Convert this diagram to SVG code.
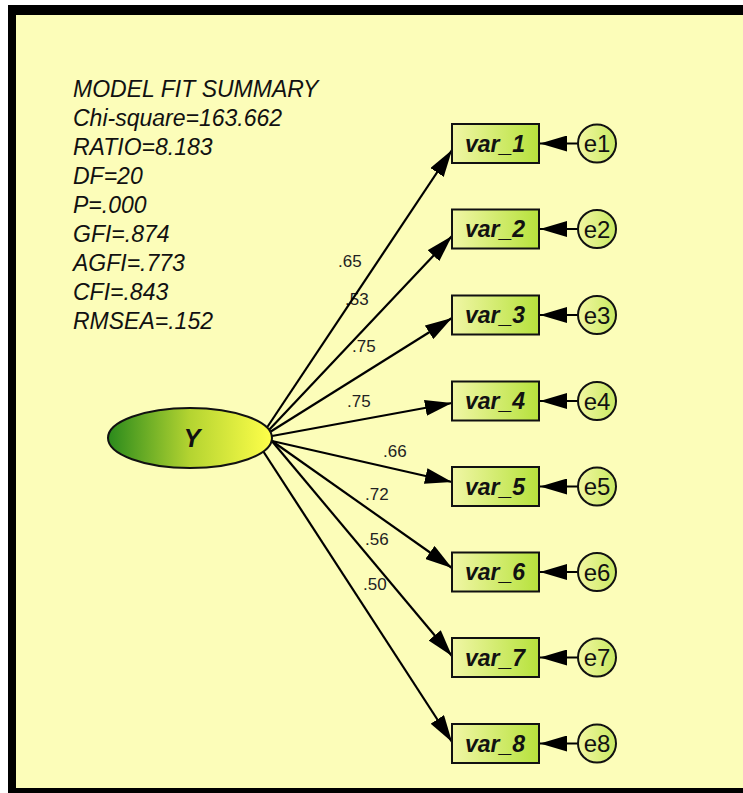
<svg xmlns="http://www.w3.org/2000/svg" width="743" height="793" viewBox="0 0 743 793">
<defs>
<linearGradient id="gBox" x1="0" y1="0" x2="1" y2="0">
<stop offset="0" stop-color="#F1F6A6"/><stop offset="1" stop-color="#B6E23C"/>
</linearGradient>
<linearGradient id="gErr" x1="0" y1="0" x2="1" y2="0">
<stop offset="0" stop-color="#F2F7A2"/><stop offset="1" stop-color="#C9E962"/>
</linearGradient>
<linearGradient id="gY" x1="0" y1="0" x2="1" y2="0">
<stop offset="0" stop-color="#2A8A1C"/><stop offset="0.5" stop-color="#B4D431"/><stop offset="1" stop-color="#FFFF4A"/>
</linearGradient>
<marker id="arr" markerUnits="userSpaceOnUse" markerWidth="27" markerHeight="16" refX="27" refY="8" orient="auto">
<path d="M0,0 L27,8 L0,16 z" fill="#000"/>
</marker>
</defs>
<style>
.fit{font-family:"Liberation Sans",Arial,sans-serif;font-style:italic;font-size:23px;fill:#111}
.lbl{font-family:"Liberation Sans",Arial,sans-serif;font-size:17px;fill:#222}
.box{fill:url(#gBox);stroke:#111;stroke-width:2}
.btx{font-family:"Liberation Sans",Arial,sans-serif;font-style:italic;font-weight:bold;font-size:23px;fill:#111;text-anchor:middle}
.err{fill:url(#gErr);stroke:#111;stroke-width:2}
.etx{font-family:"Liberation Sans",Arial,sans-serif;font-size:24px;fill:#111;text-anchor:middle}
.path{stroke:#000;stroke-width:2.2;fill:none;marker-end:url(#arr)}
</style>
<rect x="0" y="0" width="743" height="793" fill="#fff"/>
<rect x="8" y="5" width="740" height="795" fill="#000"/>
<rect x="16" y="15" width="730" height="773" fill="#FCFDB9"/>

<g id="fit-summary">
<text class="fit" x="73" y="97">MODEL FIT SUMMARY</text>
<text class="fit" x="73" y="126">Chi-square=163.662</text>
<text class="fit" x="73" y="155">RATIO=8.183</text>
<text class="fit" x="73" y="184">DF=20</text>
<text class="fit" x="73" y="213">P=.000</text>
<text class="fit" x="73" y="242">GFI=.874</text>
<text class="fit" x="73" y="271">AGFI=.773</text>
<text class="fit" x="73" y="300">CFI=.843</text>
<text class="fit" x="73" y="329">RMSEA=.152</text>
</g>

<g id="labels">
<text class="lbl" x="338" y="267">.65</text>
<text class="lbl" x="345" y="305">.53</text>
<text class="lbl" x="352" y="352">.75</text>
<text class="lbl" x="347" y="407">.75</text>
<text class="lbl" x="383" y="457">.66</text>
<text class="lbl" x="365" y="500">.72</text>
<text class="lbl" x="365" y="545">.56</text>
<text class="lbl" x="363" y="590">.50</text>
</g>

<g id="connectors">
<line class="path" x1="266" y1="429" x2="452" y2="150"/>
<line class="path" x1="268" y1="431" x2="452" y2="236"/>
<line class="path" x1="270" y1="432" x2="452" y2="318"/>
<line class="path" x1="272" y1="436" x2="452" y2="403"/>
<line class="path" x1="272" y1="441" x2="452" y2="482"/>
<line class="path" x1="272" y1="441" x2="452" y2="568"/>
<line class="path" x1="271" y1="440" x2="452" y2="656"/>
<line class="path" x1="263" y1="451" x2="452" y2="742"/>
<line class="path" x1="578" y1="143.5" x2="540" y2="143.5"/>
<line class="path" x1="578" y1="229" x2="540" y2="229"/>
<line class="path" x1="578" y1="315" x2="540" y2="315"/>
<line class="path" x1="578" y1="401" x2="540" y2="401"/>
<line class="path" x1="578" y1="486.5" x2="540" y2="486.5"/>
<line class="path" x1="578" y1="572" x2="540" y2="572"/>
<line class="path" x1="578" y1="657.5" x2="540" y2="657.5"/>
<line class="path" x1="578" y1="743.5" x2="540" y2="743.5"/>
</g>

<g id="Y">
<ellipse cx="190" cy="438" rx="82" ry="30" fill="url(#gY)" stroke="#111" stroke-width="2"/>
<text x="192" y="447" font-family="Liberation Sans,Arial,sans-serif" font-size="25" font-weight="bold" font-style="italic" fill="#111" text-anchor="middle">Y</text>
</g>

<g id="var_1"><rect class="box" x="452" y="124" width="87" height="39"/><text class="btx" x="495" y="151.5">var_1</text></g>
<g id="var_2"><rect class="box" x="452" y="209.5" width="87" height="39"/><text class="btx" x="495" y="237">var_2</text></g>
<g id="var_3"><rect class="box" x="452" y="295.5" width="87" height="39"/><text class="btx" x="495" y="323">var_3</text></g>
<g id="var_4"><rect class="box" x="452" y="381.5" width="87" height="39"/><text class="btx" x="495" y="409">var_4</text></g>
<g id="var_5"><rect class="box" x="452" y="467" width="87" height="39"/><text class="btx" x="495" y="494.5">var_5</text></g>
<g id="var_6"><rect class="box" x="452" y="552.5" width="87" height="39"/><text class="btx" x="495" y="580">var_6</text></g>
<g id="var_7"><rect class="box" x="452" y="638" width="87" height="39"/><text class="btx" x="495" y="665.5">var_7</text></g>
<g id="var_8"><rect class="box" x="452" y="724" width="87" height="39"/><text class="btx" x="495" y="751.5">var_8</text></g>

<g id="e1"><circle class="err" cx="597" cy="143.5" r="19"/><text class="etx" x="597" y="152">e1</text></g>
<g id="e2"><circle class="err" cx="597" cy="229" r="19"/><text class="etx" x="597" y="237.5">e2</text></g>
<g id="e3"><circle class="err" cx="597" cy="315" r="19"/><text class="etx" x="597" y="323.5">e3</text></g>
<g id="e4"><circle class="err" cx="597" cy="401" r="19"/><text class="etx" x="597" y="409.5">e4</text></g>
<g id="e5"><circle class="err" cx="597" cy="486.5" r="19"/><text class="etx" x="597" y="495">e5</text></g>
<g id="e6"><circle class="err" cx="597" cy="572" r="19"/><text class="etx" x="597" y="580.5">e6</text></g>
<g id="e7"><circle class="err" cx="597" cy="657.5" r="19"/><text class="etx" x="597" y="666">e7</text></g>
<g id="e8"><circle class="err" cx="597" cy="743.5" r="19"/><text class="etx" x="597" y="752">e8</text></g>
</svg>
